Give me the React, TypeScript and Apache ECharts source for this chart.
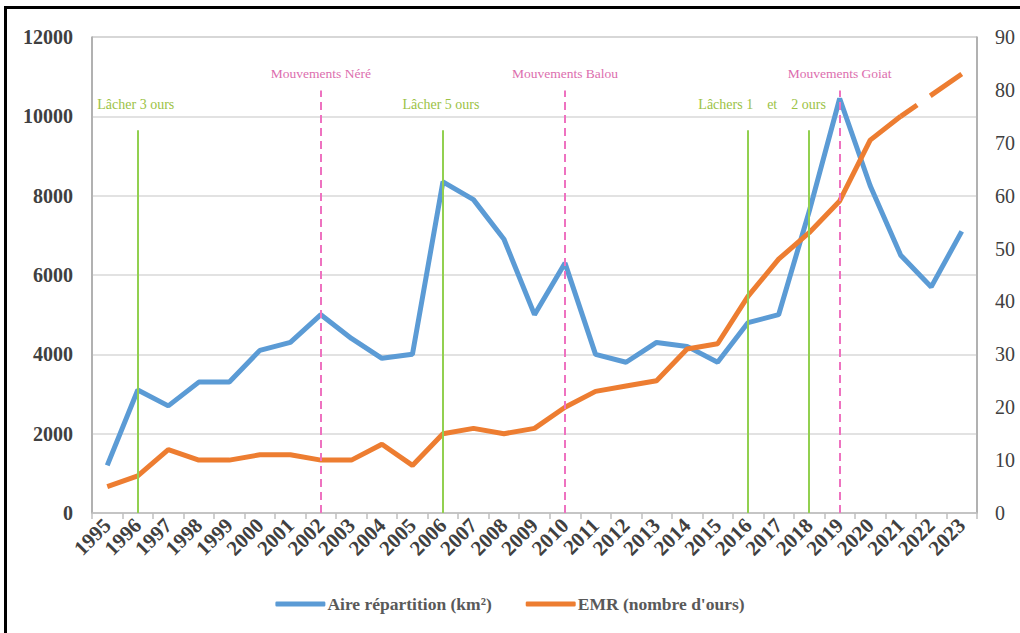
import React, { useEffect, useRef } from "react";
import * as echarts from "echarts";

const years = [
  "1995", "1996", "1997", "1998", "1999", "2000", "2001", "2002", "2003", "2004",
  "2005", "2006", "2007", "2008", "2009", "2010", "2011", "2012", "2013", "2014",
  "2015", "2016", "2017", "2018", "2019", "2020", "2021", "2022", "2023",
];
const aire = [
  1200, 3100, 2700, 3300, 3300, 4100, 4300, 5000, 4400, 3900,
  4000, 8350, 7900, 6900, 5000, 6300, 4000, 3800, 4300, 4200,
  3800, 4800, 5000, 7600, 10450, 8250, 6500, 5700, 7100,
];
const emr = [
  5, 7, 12, 10, 10, 11, 11, 10, 10, 13,
  9, 15, 16, 15, 16, 20, 23, 24, 25, 31,
  32, 41, 48, 53, 59, 70.5, 75, 79, 83,
];
const dashedFromIndex = 26; // 2021 onwards drawn dashed

const leftTicks = { min: 0, max: 12000, interval: 2000 };
const rightTicks = { min: 0, max: 90, interval: 10 };

const releases = [
  { year: "1996", label: "Lâcher 3 ours" },
  { year: "2006", label: "Lâcher 5 ours" },
  { year: "2016", label: "Lâchers\u00A01\u00A0\u00A0\u00A0\u00A0et\u00A0\u00A0\u00A0\u00A02\u00A0ours" },
  { year: "2018", label: "" },
];
const movements = [
  { year: "2002", label: "Mouvements Néré" },
  { year: "2010", label: "Mouvements Balou" },
  { year: "2019", label: "Mouvements Goiat" },
];
const releaseTop = 9650;
const movementTop = 10650;
const releaseLabelY = 10290;
const movementLabelY = 11090;

const BLUE = "#5B9BD5";
const ORANGE = "#ED7D31";
const GREEN = "#92D050";
const GREEN_TEXT = "#9BC245";
const PINK = "#EE72C0";
const PINK_TEXT = "#DC6EAE";
const SERIF = "Liberation Serif";

export default function App() {
  const ref = useRef<HTMLDivElement>(null);
  useEffect(() => {
    if (!ref.current) return;
    const chart = echarts.init(ref.current, undefined, { renderer: "svg" });

    const solidEmr = emr.map((v, i) => (i <= dashedFromIndex ? v : null));
    const dashEmr = emr.map((v, i) => (i >= dashedFromIndex ? v : null));

    const markLineData: any[] = [];
    releases.forEach((r) => {
      markLineData.push([
        { coord: [r.year, 0], lineStyle: { color: GREEN, width: 2, type: "solid" } },
        { coord: [r.year, releaseTop] },
      ]);
    });
    movements.forEach((m) => {
      markLineData.push([
        { coord: [m.year, 0], lineStyle: { color: PINK, width: 2, type: [8, 5] } },
        { coord: [m.year, movementTop] },
      ]);
    });

    const markPointData: any[] = [];
    releases.forEach((r) => {
      if (!r.label) return;
      markPointData.push({
        coord: [r.year, releaseLabelY],
        label: {
          formatter: r.label,
          color: GREEN_TEXT,
          fontSize: 14,
          offset: r.year === "2016" ? [14, 0] : [-2, 0],
        },
      });
    });
    movements.forEach((m) => {
      markPointData.push({
        coord: [m.year, movementLabelY],
        label: { formatter: m.label, color: PINK_TEXT, fontSize: 13.5, offset: [0, 0] },
      });
    });

    chart.setOption({
      animation: false,
      backgroundColor: "#fff",
      textStyle: { fontFamily: SERIF },
      grid: {
        left: 92,
        right: 43,
        top: 37,
        bottom: 120,
        show: true,
        borderColor: "#A6A6A6",
        borderWidth: 1,
      },
      legend: {
        bottom: 15,
        left: "center",
        itemWidth: 50,
        itemHeight: 5,
        itemGap: 34,
        icon: "roundRect",
        textStyle: {
          fontFamily: SERIF,
          fontWeight: "bold",
          fontSize: 17.5,
          color: "#595959",
          padding: [0, 0, 0, -3],
        },
        data: ["Aire répartition (km²)", "EMR (nombre d'ours)"],
      },
      xAxis: {
        type: "category",
        data: years,
        boundaryGap: true,
        axisLine: { lineStyle: { color: "#BFBFBF", width: 1.5 } },
        axisTick: { show: true, length: 6, lineStyle: { color: "#BFBFBF", width: 1.5 } },
        axisLabel: {
          rotate: 45,
          interval: 0,
          margin: 9,
          fontFamily: SERIF,
          fontWeight: "bold",
          fontSize: 21,
          color: "#404040",
        },
      },
      yAxis: [
        {
          type: "value",
          min: leftTicks.min,
          max: leftTicks.max,
          interval: leftTicks.interval,
          axisLine: { show: true, lineStyle: { color: "#A6A6A6", width: 1.5 } },
          axisTick: { show: false },
          splitLine: { lineStyle: { color: "#D9D9D9", width: 1.5 } },
          axisLabel: {
            margin: 19,
            fontFamily: SERIF,
            fontWeight: "bold",
            fontSize: 20,
            color: "#404040",
            formatter: (v: number) => String(v),
          },
        },
        {
          type: "value",
          min: rightTicks.min,
          max: rightTicks.max,
          interval: rightTicks.interval,
          axisLine: { show: true, lineStyle: { color: "#A6A6A6", width: 1.5 } },
          axisTick: { show: false },
          splitLine: { show: false },
          axisLabel: {
            margin: 18,
            fontFamily: SERIF,
            fontSize: 20,
            color: "#404040",
            formatter: (v: number) => String(v),
          },
        },
      ],
      series: [
        {
          name: "Aire répartition (km²)",
          type: "line",
          yAxisIndex: 0,
          data: aire,
          showSymbol: false,
          symbol: "none",
          color: BLUE,
          lineStyle: { color: BLUE, width: 5 },
          z: 3,
          markLine: {
            silent: true,
            symbol: "none",
            label: { show: false },
            animation: false,
            data: markLineData,
            z: 5,
          },
          markPoint: {
            silent: true,
            symbol: "circle",
            symbolSize: 0,
            itemStyle: { color: "transparent" },
            animation: false,
            label: {
              show: true,
              position: "inside",
              fontFamily: SERIF,
              fontSize: 14,
            },
            data: markPointData,
          },
        },
        {
          name: "EMR (nombre d'ours)",
          type: "line",
          yAxisIndex: 1,
          data: solidEmr,
          showSymbol: false,
          symbol: "none",
          color: ORANGE,
          lineStyle: { color: ORANGE, width: 5 },
          z: 4,
        },
        {
          name: "EMR dashed",
          type: "line",
          yAxisIndex: 1,
          data: dashEmr,
          showSymbol: false,
          symbol: "none",
          color: ORANGE,
          lineStyle: { color: ORANGE, width: 5, type: [20, 16, 40], cap: "butt" },
          z: 4,
        },
      ],
    });
    return () => chart.dispose();
  }, []);

  return (
    <div
      style={{
        position: "fixed",
        left: 0,
        top: 0,
        width: 1020,
        height: 633,
        overflow: "hidden",
        background: "#fff",
      }}
    >
      <div ref={ref} style={{ position: "absolute", left: 0, top: 0, width: 1020, height: 633 }} />
      <div
        style={{
          position: "absolute",
          left: 4,
          top: 6,
          width: 1040,
          height: 660,
          border: "3px solid #000",
          boxSizing: "border-box",
          pointerEvents: "none",
        }}
      />
    </div>
  );
}
